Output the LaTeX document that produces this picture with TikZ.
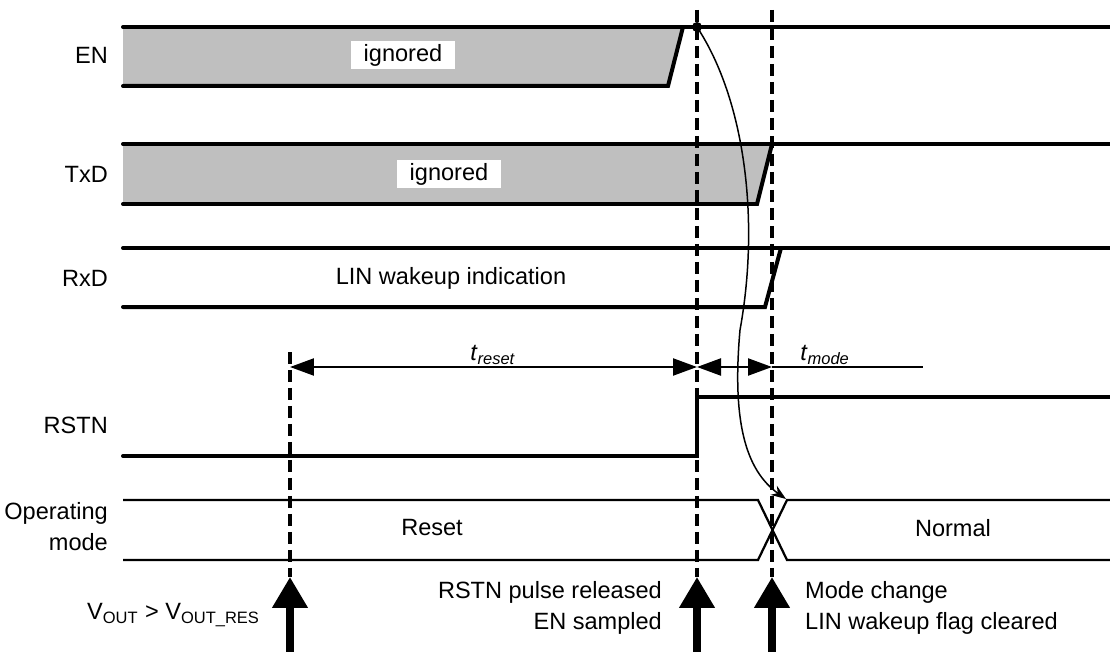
\documentclass[tikz,border=0pt]{standalone}
\usepackage{fontspec}
\setmainfont{Liberation Sans}
\usetikzlibrary{arrows.meta}

\tikzset{
  wave/.style={draw,line width=0.08cm,line cap=round},
  modeline/.style={draw,line width=0.045cm},
  ignfill/.style={fill=black!25},
  ignbox/.style={fill=white,inner sep=0pt,minimum width=2.1cm,minimum height=0.58cm},
  signame/.style={anchor=east,align=right},
  marker/.style={line width=0.08cm,dash pattern=on 0.24cm off 0.12cm},
  bigarrow/.style={line width=0.15cm,-{Triangle[length=0.62cm,width=0.68cm]}},
  timearrow/.style={line width=0.045cm,{Triangle[length=0.48cm,width=0.34cm]}-{Triangle[length=0.48cm,width=0.34cm]}},
}

\begin{document}
\begin{tikzpicture}[x=0.02cm,y=-0.02cm,font=\fontsize{13.4}{17.6}\selectfont]
\useasboundingbox (0,0) rectangle (1110,652);

% event instants
\coordinate (vtop) at (290,352);
\coordinate (vtip) at (290,577);
\coordinate (vbot) at (290,652);
\coordinate (stop) at (697,10);
\coordinate (stip) at (697,577);
\coordinate (sbot) at (697,652);
\coordinate (mtop) at (772,10);
\coordinate (mtip) at (772,577);
\coordinate (mbot) at (772,652);

% signal names
\node[signame] (en) at (114,55) {EN};
\node[signame] (txd) at (114,174) {TxD};
\node[signame] (rxd) at (114,278) {RxD};
\node[signame] (rstn) at (114,425) {RSTN};
\node[signame] (opmode) at (114,527) {Operating\\mode};

% EN
\fill[ignfill] (123,27) -- (683,27) -- (668,86) -- (123,86) -- cycle;
\draw[wave] (123,27) -- (1110,27);
\draw[wave] (123,86) -- (668,86) -- (683,27);
\node[ignbox] (enign) at (403,55) {ignored};

% TxD
\fill[ignfill] (123,144) -- (772,144) -- (757,204) -- (123,204) -- cycle;
\draw[wave] (123,144) -- (1110,144);
\draw[wave] (123,204) -- (757,204) -- (772,144);
\node[ignbox] (txdign) at (449,174) {ignored};

% RxD
\draw[wave] (123,248) -- (1110,248);
\draw[wave] (123,307) -- (765,307) -- (781,248);
\node (wake) at (451,278) {LIN wakeup indication};

% RSTN
\draw[wave] (123,456) -- (697,456) -- (697,397) -- (1110,397);

% operating mode
\draw[modeline] (123,500) -- (758,500) -- (787,560) -- (1110,560);
\draw[modeline] (123,560) -- (758,560) -- (787,500) -- (1110,500);
\node (reset) at (432,528) {Reset};
\node (normal) at (953,528) {Normal};

% timings
\coordinate (rst0) at (290,367);
\coordinate (rst1) at (697,367);
\coordinate (mode1) at (772,367);
\coordinate (mode2) at (923,367);
\draw[timearrow] (rst0) -- (rst1);
\draw[timearrow] (rst1) -- (mode1);
\draw[line width=0.045cm] (mode1) -- (mode2);
\node (treset) at (493,355) {\textit{t}\textsubscript{\textit{reset}}};
\node (tmode) at (825,355) {\textit{t}\textsubscript{\textit{mode}}};

% instants
\draw[marker] (vtop) -- (vtip);
\draw[marker] (stop) -- (stip);
\draw[marker] (mtop) -- (mtip);
\draw[bigarrow] (vbot) -- (vtip);
\draw[bigarrow] (sbot) -- (stip);
\draw[bigarrow] (mbot) -- (mtip);

% EN sampled -> mode change
\fill (697,27) circle (5) coordinate (sample);
\coordinate (change) at (786,499);
\draw[line width=0.03cm,-{Stealth[length=0.3cm,width=0.22cm]}] (sample)
  .. controls (745,100) and (760,220) .. (740,330)
  .. controls (732,420) and (745,470) .. (change);

\node[anchor=east] (vout) at (266,615) {V\textsubscript{OUT} > V\textsubscript{OUT\_RES}};
\node[anchor=east,align=right] (released) at (668,608) {RSTN pulse released\\EN sampled};
\node[anchor=west,align=left] (modechg) at (799,608) {Mode change\\LIN wakeup flag cleared};
\end{tikzpicture}
\end{document}
